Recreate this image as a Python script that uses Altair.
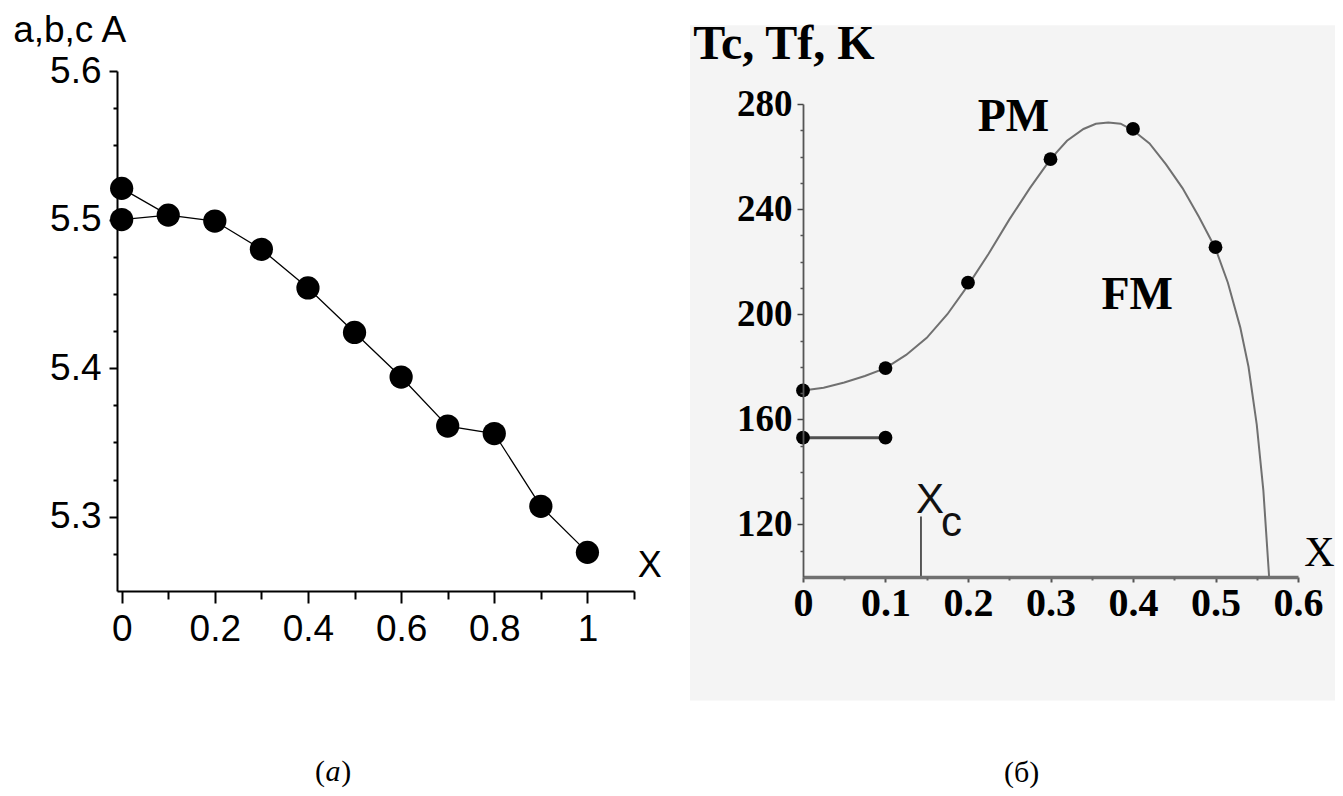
import altair as alt
import pandas as pd

# ---------------- Panel (a): lattice parameters ----------------
a_x = [0.0, 0.1, 0.2, 0.3, 0.4, 0.5, 0.6, 0.7, 0.8, 0.9, 1.0]
a_main = [5.521, 5.503, 5.499, 5.480, 5.454, 5.424, 5.394, 5.361, 5.356, 5.307, 5.276]
a_branch_x = [0.0, 0.1]
a_branch = [5.500, 5.503]

a_y_major = [5.3, 5.4, 5.5, 5.6]
a_y_minor = [5.275, 5.325, 5.35, 5.375, 5.425, 5.45, 5.475, 5.525, 5.55, 5.575]
a_x_major = [0.0, 0.2, 0.4, 0.6, 0.8, 1.0]
a_x_minor = [0.1, 0.3, 0.5, 0.7, 0.9, 1.1]

# ---------------- Panel (б): Tc, Tf ----------------
b_x = [0.0, 0.1, 0.2, 0.3, 0.4, 0.5]
b_tc = [171, 179.5, 212, 259, 270.5, 225.5]
b_tf_x = [0.0, 0.1]
b_tf = [153, 153]
curve_x = [0.0, 0.025, 0.05, 0.075, 0.1, 0.125, 0.15, 0.175, 0.2, 0.225, 0.25, 0.275, 0.3,
           0.32, 0.34, 0.355, 0.37, 0.385, 0.4, 0.42, 0.44, 0.46, 0.48, 0.5, 0.515, 0.53,
           0.54, 0.55, 0.558, 0.565]
curve_t = [171, 172, 174, 176.5, 179.5, 184.5, 191, 200, 211, 223, 236, 248, 259,
           266, 270.5, 272.5, 273, 272.5, 270, 265, 257, 248, 237, 225, 212, 195,
           180, 158, 133, 100]
xc_x = 0.143
xc_top = 123

b_y_major = [120, 160, 200, 240, 280]
b_y_minor = [110, 130, 140, 150, 170, 180, 190, 210, 220, 230, 250, 260, 270]
b_x_major = [0.0, 0.1, 0.2, 0.3, 0.4, 0.5, 0.6]
b_x_minor = [0.05, 0.15, 0.25, 0.35, 0.45, 0.55]

# ---------------- tables ----------------
dfa_line = pd.concat([
    pd.DataFrame({"x": a_x, "y": a_main, "s": "main"}),
    pd.DataFrame({"x": a_branch_x, "y": a_branch, "s": "branch"}),
])
dfa_pts = pd.concat([
    pd.DataFrame({"x": a_x, "y": a_main}),
    pd.DataFrame({"x": a_branch_x[:1], "y": a_branch[:1]}),
])
dfb_curve = pd.DataFrame({"x": curve_x, "y": curve_t, "i": list(range(len(curve_x)))})
dfb_tc = pd.DataFrame({"x": b_x, "y": b_tc})
dfb_tf = pd.DataFrame({"x": b_tf_x, "y": b_tf})
dfb_xc = pd.DataFrame({"x": [xc_x], "y": [100], "y2": [xc_top]})

# scales (pixel ranges place the two panels)
LX = alt.Scale(domain=[-0.01, 1.1], range=[109, 626], nice=False, zero=False)
LY = alt.Scale(domain=[5.25, 5.6], range=[583, 63], nice=False, zero=False)
RX = alt.Scale(domain=[0, 0.6], range=[795, 1290], nice=False, zero=False)
RY = alt.Scale(domain=[100, 280], range=[569, 96], nice=False, zero=False)

SANS = "Liberation Sans, Arial, sans-serif"
SERIF = "Liberation Serif, Times New Roman, serif"


def lx(axis=None):
    return alt.X("x:Q", scale=LX, axis=axis)


def ly(axis=None):
    return alt.Y("y:Q", scale=LY, axis=axis)


def rx(axis=None):
    return alt.X("x:Q", scale=RX, axis=axis)


def ry(axis=None, field="y:Q"):
    return alt.Y(field, scale=RY, axis=axis)


# ---- left axes ----
ax_lx_major = alt.Axis(orient="bottom", offset=-197, values=a_x_major, format="~g",
                       tickSize=12, tickWidth=2, tickColor="black", domainColor="black",
                       domainWidth=2, labelFont=SANS, labelFontSize=37, labelColor="black",
                       labelPadding=8, grid=False, title=None, zindex=1, labelFlush=False,
                       labelOverlap=False)
ax_lx_minor = alt.Axis(orient="bottom", offset=-197, values=a_x_minor, labels=False,
                       tickSize=8, tickWidth=2, tickColor="black", domain=False,
                       grid=False, title=None, zindex=1)
ax_ly_major = alt.Axis(orient="left", offset=-109, values=a_y_major, format=".1f",
                       tickSize=8, tickWidth=2, tickColor="black", domainColor="black",
                       domainWidth=2, labelFont=SANS, labelFontSize=37, labelColor="black",
                       labelPadding=8, grid=False, title=None, zindex=1, labelFlush=False,
                       labelOverlap=False)
ax_ly_minor = alt.Axis(orient="left", offset=-109, values=a_y_minor, labels=False,
                       tickSize=4, tickWidth=2, tickColor="black", domain=False,
                       grid=False, title=None, zindex=1)

# ---- right axes ----
ax_rx_major = alt.Axis(orient="bottom", offset=-211, values=b_x_major, format="~g",
                       tickSize=5, tickWidth=2, tickColor="#555555", domainColor="#707070",
                       domainWidth=3.5, labelFont=SERIF, labelFontWeight="bold",
                       labelFontSize=40, labelColor="black", labelPadding=1, grid=False,
                       title=None, zindex=1, labelFlush=False, labelOverlap=False)
ax_rx_minor = alt.Axis(orient="bottom", offset=-211, values=b_x_minor, labels=False,
                       tickSize=3, tickWidth=2, tickColor="#666666", domain=False,
                       grid=False, title=None, zindex=1)
ax_ry_major = alt.Axis(orient="left", offset=-795, values=b_y_major, format="d",
                       tickSize=6, tickWidth=1.5, tickColor="#444444", domainColor="#555555",
                       domainWidth=1.8, labelFont=SERIF, labelFontWeight="bold",
                       labelFontSize=37, labelColor="black", labelPadding=5, grid=False,
                       title=None, zindex=1, labelFlush=False, labelOverlap=False)
ax_ry_minor = alt.Axis(orient="left", offset=-795, values=b_y_minor, labels=False,
                       tickSize=3, tickWidth=1.5, tickColor="#555555", domain=False,
                       grid=False, title=None, zindex=1)

# ---------------- layers ----------------
# light paper background behind panel (б)
bg = alt.Chart(pd.DataFrame({"x": [-0.137], "x2": [0.66], "y": [310], "y2": [53]})).mark_rect(
    color="#f4f4f4").encode(x=rx(), x2="x2:Q", y=ry(), y2="y2:Q")

a_line = alt.Chart(dfa_line).mark_line(color="black", strokeWidth=1.3).encode(
    x=lx(ax_lx_major), y=ly(ax_ly_major), detail="s:N")
a_points = alt.Chart(dfa_pts).mark_circle(size=540, color="black", opacity=1).encode(
    x=lx(ax_lx_minor), y=ly(ax_ly_minor))

b_curve = alt.Chart(dfb_curve).mark_line(color="#707070", strokeWidth=2).encode(
    x=rx(ax_rx_major), y=ry(ax_ry_major), order="i:Q")
b_points = alt.Chart(dfb_tc).mark_circle(size=190, color="black", opacity=1).encode(
    x=rx(ax_rx_minor), y=ry(ax_ry_minor))
b_tf_line = alt.Chart(dfb_tf).mark_line(color="#505050", strokeWidth=3).encode(x=rx(), y=ry())
b_tf_pts = alt.Chart(dfb_tf).mark_circle(size=190, color="black", opacity=1).encode(x=rx(), y=ry())
b_xc = alt.Chart(dfb_xc).mark_rule(color="#333333", strokeWidth=1.6).encode(
    x=rx(), y=ry(), y2="y2:Q")

# texts in panel (a) coordinates
ta = pd.DataFrame({
    "x": [-0.233, 1.134],
    "y": [5.6195, 5.267],
    "t": ["a,b,c A", "X"],
})
a_title = alt.Chart(ta.iloc[[0]]).mark_text(font=SANS, fontSize=37, align="left",
                                           baseline="alphabetic", color="black").encode(
    x=lx(), y=ly(), text="t:N")
a_xlab = alt.Chart(ta.iloc[[1]]).mark_text(font=SANS, fontSize=36, align="center",
                                          baseline="middle", color="black").encode(
    x=lx(), y=ly(), text="t:N")
cap_a = pd.DataFrame({"x": [0.426, 0.454, 0.482], "y": [5.128] * 3, "t": ["(", "a", ")"]})
a_cap_par = alt.Chart(cap_a.iloc[[0, 2]]).mark_text(font=SERIF, fontSize=30, align="center",
                                                   baseline="middle", color="black").encode(
    x=lx(), y=ly(), text="t:N")
a_cap_it = alt.Chart(cap_a.iloc[[1]]).mark_text(font=SERIF, fontSize=30, fontStyle="italic",
                                               align="center", baseline="middle",
                                               color="black").encode(
    x=lx(), y=ly(), text="t:N")

# texts in panel (б) coordinates
b_title = alt.Chart(pd.DataFrame({"x": [-0.133], "y": [297], "t": ["Tc, Tf, K"]})).mark_text(
    font=SERIF, fontSize=48, fontWeight="bold", align="left", baseline="alphabetic",
    color="black").encode(x=rx(), y=ry(), text="t:N")
b_phase = alt.Chart(pd.DataFrame({"x": [0.255, 0.405], "y": [275, 207.5],
                                  "t": ["PM", "FM"]})).mark_text(
    font=SERIF, fontSize=46, fontWeight="bold", align="center", baseline="middle",
    color="black").encode(x=rx(), y=ry(), text="t:N")
b_xlab = alt.Chart(pd.DataFrame({"x": [0.626], "y": [109], "t": ["X"]})).mark_text(
    font=SERIF, fontSize=42, align="center", baseline="middle", color="black").encode(
    x=rx(), y=ry(), text="t:N")
b_xc_X = alt.Chart(pd.DataFrame({"x": [0.154], "y": [129.4], "t": ["X"]})).mark_text(
    font=SANS, fontSize=42, align="center", baseline="middle", color="#111111").encode(
    x=rx(), y=ry(), text="t:N")
b_xc_c = alt.Chart(pd.DataFrame({"x": [0.18], "y": [120.5], "t": ["c"]})).mark_text(
    font=SANS, fontSize=42, align="center", baseline="middle", color="#111111").encode(
    x=rx(), y=ry(), text="t:N")
b_cap = alt.Chart(pd.DataFrame({"x": [0.265], "y": [25.6], "t": ["(б)"]})).mark_text(
    font=SERIF, fontSize=30, align="center", baseline="middle", color="black").encode(
    x=rx(), y=ry(), text="t:N")

chart = alt.layer(
    bg,
    a_line, a_points,
    b_curve, b_points, b_tf_line, b_tf_pts, b_xc,
    a_title, a_xlab, a_cap_par, a_cap_it,
    b_title, b_phase, b_xlab, b_xc_X, b_xc_c, b_cap,
).resolve_scale(x="independent", y="independent").properties(
    width=1327, height=780, padding=0, background="white",
    autosize=alt.AutoSizeParams(type="none"),
).configure_view(stroke=None)

chart.save("out.html", embed_options={"renderer": "svg", "actions": False})
